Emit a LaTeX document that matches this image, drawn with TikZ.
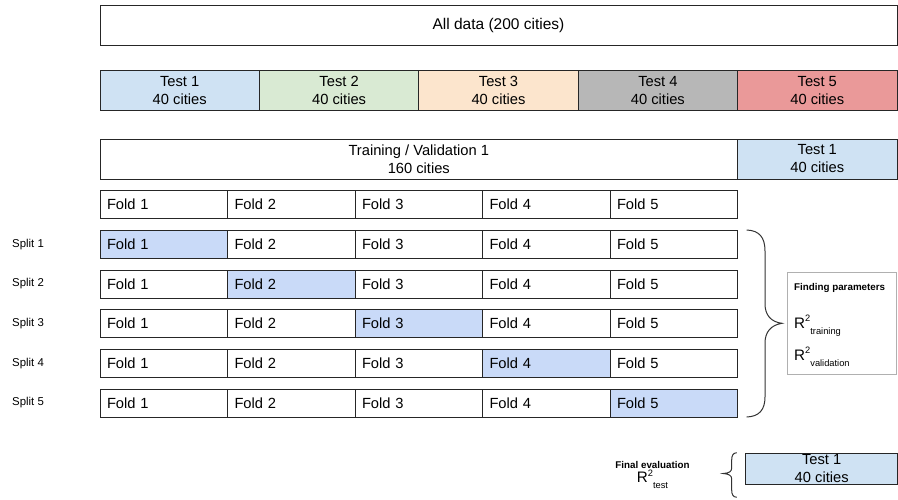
\documentclass[tikz,border=0pt]{standalone}
\usepackage{fontspec}
\setmainfont{Liberation Sans}
\definecolor{linecol}{HTML}{262626}
\definecolor{braceol}{HTML}{333333}
\definecolor{testA}{HTML}{CFE2F3}
\definecolor{testB}{HTML}{D9EAD3}
\definecolor{testC}{HTML}{FCE5CD}
\definecolor{testD}{HTML}{B7B7B7}
\definecolor{testE}{HTML}{EA9999}
\definecolor{foldhl}{HTML}{C9DAF8}
\definecolor{panelcol}{HTML}{B0B0B0}
\newcommand{\rsq}[1]{{\fontsize{15.2}{15.2}\selectfont R}\raisebox{6.3pt}{\fontsize{9.3}{9.3}\selectfont 2}\raisebox{-6pt}{\fontsize{9.3}{9.3}\selectfont #1}}
\begin{document}
\begin{tikzpicture}[x=1pt,y=-1pt,
  bigbox/.style={draw=linecol, line width=1pt, inner sep=0pt, outer sep=0pt,
    align=center, font=\fontsize{14.7}{18}\selectfont, minimum height=40pt},
  foldcell/.style={draw=linecol, line width=1pt, outer sep=0pt, inner ysep=0pt,
    inner xsep=7pt, text width=113.5pt, align=left, minimum height=28pt,
    font=\fontsize{14.7}{17}\selectfont},
  splitlbl/.style={anchor=west, inner sep=0pt, font=\fontsize{11.4}{13}\selectfont},
  boldlbl/.style={inner sep=0pt, font=\bfseries\fontsize{9.8}{12}\selectfont},
  bracepath/.style={draw=braceol, line width=1pt}]
\useasboundingbox (0,0) rectangle (898,499);

% whole data set
\node[bigbox, minimum width=797pt, font=\fontsize{15.5}{18}\selectfont] (all) at (498.5,25) {All data (200 cities)};

% five outer test partitions
\foreach \i/\c in {1/testA,2/testB,3/testC,4/testD,5/testE}{
  \node[bigbox, fill=\c, minimum width=159.4pt] (test\i) at ({100+79.7+159.4*(\i-1)},90.7)
    {Test \i\\40 cities};
}

% first outer split
\node[bigbox, minimum width=637.6pt] (trval) at (418.8,159) {Training / Validation 1\\160 cities};
\node[bigbox, fill=testA, minimum width=159.4pt] (testone) at (817.3,159) {Test 1\\40 cities};

% fold header row
\foreach \j in {1,...,5}{
  \node[foldcell] (h\j) at ({100+63.75+127.5*(\j-1)},204.7) {Fold \j};
}

% inner splits, validation fold highlighted
\foreach \k in {1,...,5}{
  \pgfmathsetmacro{\cy}{204.7+39.66*\k}
  \node[splitlbl] (s\k) at (12,\cy) {Split \k};
  \foreach \j in {1,...,5}{
    \ifnum\j=\k
      \node[foldcell, fill=foldhl] (f\k\j) at ({100+63.75+127.5*(\j-1)},\cy) {Fold \j};
    \else
      \node[foldcell] (f\k\j) at ({100+63.75+127.5*(\j-1)},\cy) {Fold \j};
    \fi
  }
}

% brace grouping the five splits
\draw[bracepath] (746.7,230) .. controls (759,230.5) and (765,237) .. (765,251)
  -- (765,304) .. controls (765,315) and (771,322) .. (782,323.3)
  .. controls (771,325) and (765,332) .. (765,343)
  -- (765,397) .. controls (765,410) and (759,416.5) .. (746.7,417);

% parameter search panel
\node[draw=panelcol, line width=0.8pt, minimum width=109pt, minimum height=102pt,
  inner sep=0pt, outer sep=0pt] (panel) at (842.2,323.3) {};
\node[boldlbl, anchor=west] (findp) at (794,287.5) {Finding parameters};
\node[anchor=base west, inner sep=0pt] (rtrain) at (794,328) {\rsq{training}};
\node[anchor=base west, inner sep=0pt] (rval) at (794,360) {\rsq{validation}};

% final evaluation on the held-out partition
\node[bigbox, fill=testA, minimum width=152pt, minimum height=31pt] (final) at (821.7,468.8) {Test 1\\40 cities};
\draw[bracepath] (736.7,452.7) .. controls (733,453) and (731.7,455.5) .. (731.7,460)
  -- (731.7,468) .. controls (731.7,471.5) and (729,473.2) .. (723.3,473.5)
  .. controls (729,474) and (731.7,475.5) .. (731.7,479)
  -- (731.7,490) .. controls (731.7,494.5) and (733,497) .. (736.7,497.3);
\node[boldlbl] (fevl) at (652.5,464.8) {Final evaluation};
\node[anchor=base, inner sep=0pt] (rtest) at (652.5,482.8) {\rsq{test}};
\end{tikzpicture}
\end{document}
